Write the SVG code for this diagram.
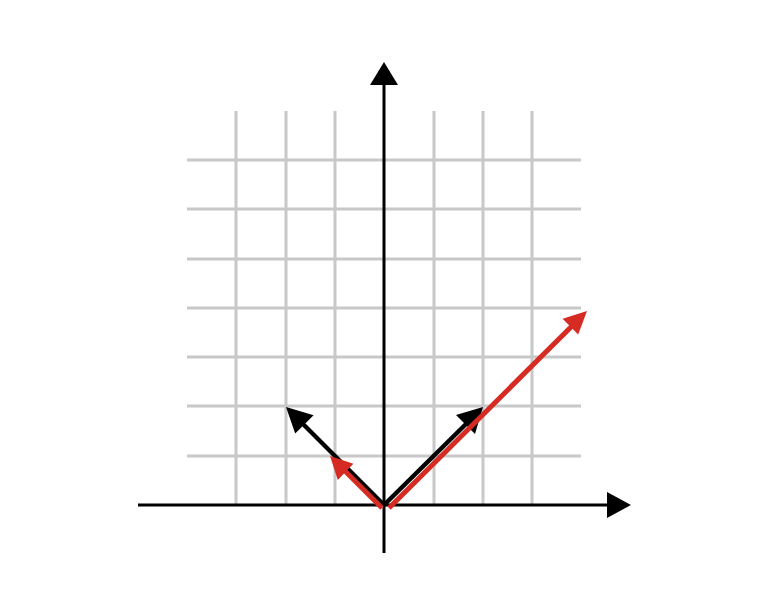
<svg xmlns="http://www.w3.org/2000/svg" width="764" height="600" viewBox="0 0 764 600">
<style>
.grid line{stroke:#c8c8c8;stroke-width:3}
.axis{stroke:#000;stroke-width:3}
.vb{stroke:#000;stroke-width:4.5}
.vr{stroke:#d52b22;stroke-width:5}
.hb{fill:#000}
.hr{fill:#d52b22}
</style>
<rect width="764" height="600" fill="#fff"/>
<g id="grid" class="grid">
<line x1="236" y1="111" x2="236" y2="505"/>
<line x1="286" y1="111" x2="286" y2="505"/>
<line x1="335" y1="111" x2="335" y2="505"/>
<line x1="434" y1="111" x2="434" y2="505"/>
<line x1="483" y1="111" x2="483" y2="505"/>
<line x1="532" y1="111" x2="532" y2="505"/>
<line x1="187" y1="160" x2="581" y2="160"/>
<line x1="187" y1="209" x2="581" y2="209"/>
<line x1="187" y1="259" x2="581" y2="259"/>
<line x1="187" y1="308" x2="581" y2="308"/>
<line x1="187" y1="357" x2="581" y2="357"/>
<line x1="187" y1="406" x2="581" y2="406"/>
<line x1="187" y1="456" x2="581" y2="456"/>
</g>
<g id="axes">
<line class="axis" x1="138" y1="505" x2="610" y2="505"/>
<polygon class="hb" points="631,505 607,492 607,518"/>
<line class="axis" x1="384" y1="553" x2="384" y2="82"/>
<polygon class="hb" points="384,62 370,85 398,85"/>
</g>
<g id="connectors">
<line class="vb" x1="384" y1="505" x2="303" y2="424"/>
<polygon class="hb" points="286,407 313.6,415.2 295.2,433.6"/>
<line class="vb" x1="384" y1="505" x2="466" y2="424"/>
<polygon class="hb" points="483,407 456,415 475,434"/>
<line class="vr" x1="382" y1="508" x2="345" y2="471"/>
<polygon class="hr" points="330,456 353.4,463.8 337.8,480"/>
<line class="vr" x1="389" y1="508" x2="572" y2="326"/>
<polygon class="hr" points="587,311 562.6,318.8 578.2,334.4"/>
</g>
</svg>
